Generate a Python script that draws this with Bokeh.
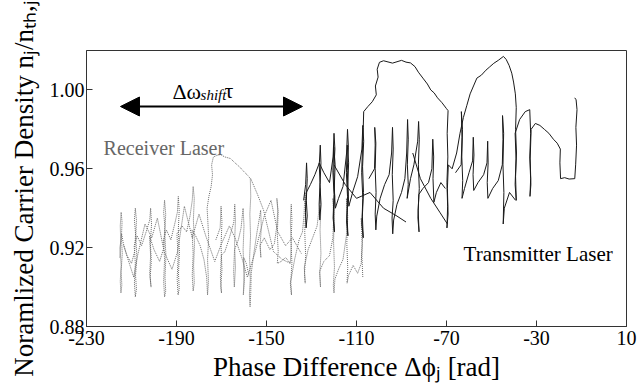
import math
from bokeh.plotting import figure
from bokeh.models import (FixedTicker, PrintfTickFormatter, Label, Arrow,
                          NormalHead, Range1d)
from bokeh.embed import file_html
from bokeh.resources import INLINE

# ---------------- data ----------------
x_ticks = [-230, -190, -150, -110, -70, -30, 10]
y_ticks = [0.88, 0.92, 0.96, 1.00]
x_title = "Phase Difference \u0394\u03d5\u2c7c [rad]"
y_title = "Noramlized Carrier Density n\u2c7c/n\u209c\u2095,\u2c7c"

# Receiver laser trajectory (grey dotted): (phase difference, carrier density)
recv_seg1 = [
    (-215.2, 0.915), (-214.8, 0.924), (-215.0, 0.931), (-214.6, 0.938), (-214.2, 0.933), (-214.5, 0.925),
    (-214.1, 0.917), (-214.6, 0.908), (-214.3, 0.901), (-214.7, 0.897), (-215.0, 0.903), (-214.6, 0.911),
    (-215.1, 0.920), (-214.4, 0.927), (-213.6, 0.922), (-212.0, 0.916), (-210.0, 0.912),
    (-208.6, 0.918), (-208.2, 0.927), (-208.7, 0.934), (-208.3, 0.940), (-207.8, 0.934), (-208.1, 0.925),
    (-207.6, 0.915), (-208.2, 0.906), (-207.8, 0.899), (-208.3, 0.895), (-208.7, 0.902), (-208.3, 0.912),
    (-208.8, 0.921), (-207.5, 0.926), (-205.5, 0.921), (-203.5, 0.928),
    (-201.9, 0.934), (-201.5, 0.940), (-201.1, 0.932), (-201.6, 0.922), (-201.2, 0.913), (-201.7, 0.905),
    (-201.3, 0.900), (-201.9, 0.907), (-201.5, 0.916), (-202.0, 0.926), (-200.0, 0.919), (-197.5, 0.913),
    (-195.6, 0.920), (-195.2, 0.931), (-195.7, 0.938), (-195.3, 0.944), (-194.8, 0.937), (-195.2, 0.927),
    (-194.7, 0.916), (-195.1, 0.905), (-194.8, 0.898), (-195.3, 0.895), (-195.7, 0.903), (-195.3, 0.914),
    (-195.8, 0.924), (-194.5, 0.929), (-192.5, 0.924), (-190.8, 0.932),
    (-189.6, 0.938), (-189.2, 0.946), (-188.8, 0.939), (-189.2, 0.929), (-188.7, 0.918), (-189.1, 0.907),
    (-188.8, 0.899), (-189.3, 0.896), (-189.7, 0.904), (-189.3, 0.915), (-189.8, 0.927), (-187.5, 0.931),
    (-185.5, 0.928), (-184.0, 0.936),
    (-183.0, 0.944), (-182.6, 0.951), (-182.1, 0.945), (-182.5, 0.934), (-182.0, 0.922), (-182.4, 0.911),
    (-182.1, 0.902), (-182.6, 0.898), (-183.0, 0.906), (-182.6, 0.917), (-183.1, 0.929), (-181.5, 0.926),
    (-179.5, 0.921), (-177.8, 0.914),
    (-176.6, 0.905), (-176.2, 0.896), (-175.8, 0.903), (-176.2, 0.914), (-175.7, 0.925), (-176.1, 0.934),
    (-176.4, 0.940), (-175.6, 0.946), (-174.6, 0.951), (-174.0, 0.957), (-174.4, 0.962), (-173.6, 0.966),
    (-172.0, 0.9668), (-170.5, 0.9672), (-168.5, 0.9660), (-166.0, 0.9652), (-164.0, 0.9630),
    (-162.0, 0.9610), (-160.0, 0.9585), (-158.2, 0.9565), (-157.2, 0.955),
    (-157.0, 0.946), (-157.4, 0.937), (-157.1, 0.926), (-157.5, 0.915), (-157.2, 0.904), (-157.6, 0.896),
    (-157.3, 0.890), (-157.0, 0.897), (-156.8, 0.907), (-155.5, 0.918), (-154.2, 0.928), (-153.0, 0.936),
    (-152.6, 0.939), (-152.3, 0.930), (-152.8, 0.922), (-152.5, 0.915), (-152.9, 0.921), (-151.0, 0.925),
    (-148.5, 0.919), (-146.5, 0.922),
    (-145.4, 0.931), (-145.0, 0.939), (-145.4, 0.945), (-144.8, 0.938), (-145.2, 0.927), (-144.8, 0.918),
    (-145.2, 0.912), (-143.5, 0.913), (-141.5, 0.915),
    (-139.4, 0.912), (-139.0, 0.922), (-139.4, 0.933), (-139.0, 0.942), (-138.7, 0.934), (-139.1, 0.923),
    (-138.7, 0.912), (-139.2, 0.903), (-138.9, 0.896), (-139.4, 0.902), (-137.5, 0.914), (-135.5, 0.924),
    (-134.0, 0.928),
    (-133.3, 0.937), (-132.9, 0.948), (-132.6, 0.940), (-133.0, 0.928), (-132.6, 0.916), (-133.1, 0.907),
    (-132.8, 0.902), (-133.2, 0.910), (-131.5, 0.919), (-129.5, 0.925), (-127.5, 0.931),
    (-126.5, 0.941), (-126.1, 0.950), (-125.8, 0.941), (-126.2, 0.929), (-125.8, 0.917), (-126.3, 0.907),
    (-126.0, 0.900), (-126.4, 0.908), (-124.5, 0.913), (-122.0, 0.916),
    (-120.5, 0.925), (-120.1, 0.936), (-120.5, 0.945), (-119.8, 0.937), (-120.2, 0.923), (-119.8, 0.910),
    (-120.3, 0.901), (-120.0, 0.897), (-119.6, 0.904), (-118.0, 0.909), (-116.0, 0.914),
    (-114.5, 0.926), (-114.1, 0.937), (-114.5, 0.945), (-113.9, 0.936), (-114.3, 0.922), (-113.9, 0.910),
    (-114.2, 0.902), (-113.5, 0.906), (-111.5, 0.911), (-109.5, 0.907),
    (-107.9, 0.912), (-107.5, 0.922), (-107.9, 0.935), (-107.3, 0.928), (-107.6, 0.916), (-107.2, 0.905)]
recv_seg2 = [
    (-172.5, 0.924), (-170.6, 0.930), (-170.2, 0.941), (-169.8, 0.933), (-170.2, 0.921), (-169.8, 0.909),
    (-170.3, 0.900), (-170.0, 0.897), (-170.5, 0.905), (-170.1, 0.916), (-168.5, 0.918), (-166.5, 0.925),
    (-164.5, 0.933), (-164.1, 0.942), (-163.8, 0.934), (-164.2, 0.922), (-163.8, 0.910), (-164.3, 0.900),
    (-164.6, 0.908), (-164.2, 0.919), (-162.5, 0.924), (-161.3, 0.930),
    (-160.4, 0.940), (-160.0, 0.931), (-160.4, 0.919), (-160.0, 0.907), (-160.3, 0.896), (-159.8, 0.903),
    (-160.1, 0.915), (-159.0, 0.912), (-157.8, 0.906)]
recv_seg3 = [
    (-213.5, 0.921), (-209.0, 0.905), (-207.5, 0.915), (-204.0, 0.932), (-201.0, 0.925), (-198.5, 0.935),
    (-195.5, 0.918), (-192.0, 0.909), (-189.5, 0.918), (-186.5, 0.941), (-183.0, 0.925), (-180.0, 0.937),
    (-177.0, 0.926), (-173.0, 0.913), (-170.0, 0.922), (-166.5, 0.931), (-164.0, 0.925), (-161.0, 0.915),
    (-158.5, 0.905), (-155.0, 0.918), (-151.0, 0.936), (-148.0, 0.944), (-145.0, 0.928), (-141.5, 0.921),
    (-138.5, 0.925), (-134.5, 0.917)]
recv_seg4 = [
    (-157.0, 0.955), (-154.0, 0.947), (-151.3, 0.939), (-149.0, 0.928), (-146.9, 0.918), (-143.0, 0.914),
    (-139.3, 0.912)]

# Transmitter laser trajectory (black solid)
trans_seg1 = [
    (-133.5, 0.944), (-132.6, 0.952), (-132.2, 0.963), (-131.9, 0.955), (-132.3, 0.944), (-131.9, 0.936),
    (-132.4, 0.930), (-132.7, 0.938), (-132.3, 0.948), (-130.5, 0.952), (-128.5, 0.957),
    (-126.5, 0.963), (-126.1, 0.972), (-125.8, 0.963), (-126.2, 0.952), (-125.8, 0.942), (-126.3, 0.934),
    (-126.6, 0.942), (-126.2, 0.953), (-126.6, 0.963), (-124.5, 0.958), (-122.0, 0.953),
    (-120.4, 0.966), (-120.0, 0.978), (-119.6, 0.970), (-120.1, 0.958), (-119.7, 0.946), (-120.2, 0.936),
    (-119.8, 0.928), (-120.4, 0.935), (-120.0, 0.947), (-120.5, 0.959), (-120.1, 0.971), (-119.5, 0.962),
    (-119.9, 0.950), (-119.4, 0.940), (-118.0, 0.945), (-116.0, 0.951),
    (-114.4, 0.968), (-114.0, 0.980), (-113.6, 0.971), (-114.1, 0.959), (-113.7, 0.947), (-114.2, 0.936),
    (-113.8, 0.926), (-114.4, 0.933), (-114.0, 0.946), (-114.5, 0.958), (-114.1, 0.972), (-113.5, 0.963),
    (-113.9, 0.951), (-113.4, 0.941), (-111.5, 0.949), (-109.5, 0.956),
    (-107.6, 0.970), (-107.2, 0.982), (-106.8, 0.974), (-107.3, 0.961), (-106.9, 0.948), (-107.4, 0.936),
    (-107.0, 0.925), (-107.6, 0.932), (-107.2, 0.945), (-107.7, 0.958), (-107.3, 0.972), (-107.0, 0.981),
    (-106.8, 0.989),
    (-105.0, 0.9915), (-103.0, 0.9940), (-101.2, 0.9975), (-101.6, 1.0020), (-100.4, 1.0065),
    (-100.8, 1.0105), (-99.8, 1.0140), (-98.0, 1.0148), (-96.0, 1.0142), (-94.0, 1.0136), (-92.0, 1.0143),
    (-90.0, 1.0150), (-88.0, 1.0141), (-86.0, 1.0137), (-84.0, 1.0118), (-82.5, 1.0090), (-80.5, 1.0060),
    (-78.5, 1.0030), (-77.0, 1.0000), (-75.5, 0.9985), (-74.0, 0.9960), (-72.0, 0.9935), (-70.0, 0.9905),
    (-69.3, 0.9895),
    (-69.7, 0.978), (-69.4, 0.966), (-69.8, 0.953), (-69.5, 0.941), (-69.8, 0.930), (-69.3, 0.937),
    (-69.6, 0.950), (-69.2, 0.962), (-67.5, 0.960), (-65.5, 0.968), (-64.0, 0.978),
    (-62.5, 0.986), (-61.0, 0.992), (-59.5, 0.998), (-58.0, 1.002), (-56.5, 1.006), (-54.5, 1.0075),
    (-52.5, 1.010), (-51.0, 1.0115), (-49.0, 1.0135), (-47.0, 1.015), (-44.7, 1.017), (-43.5, 1.0155),
    (-42.2, 1.0125), (-41.0, 1.0085), (-40.2, 1.004), (-39.4, 0.998), (-39.0, 0.991),
    (-39.3, 0.980), (-38.9, 0.968), (-39.3, 0.956), (-39.0, 0.944), (-39.5, 0.952), (-39.1, 0.965),
    (-39.5, 0.978), (-37.5, 0.985), (-35.0, 0.989), (-33.0, 0.990),
    (-32.6, 0.978), (-33.0, 0.966), (-32.6, 0.955), (-32.9, 0.946), (-32.5, 0.952), (-32.8, 0.965),
    (-32.4, 0.980), (-30.5, 0.983), (-28.5, 0.982), (-26.5, 0.980), (-24.5, 0.978), (-22.5, 0.975),
    (-20.8, 0.973), (-19.4, 0.970), (-19.6, 0.963), (-19.3, 0.955), (-17.5, 0.9555), (-15.5, 0.9548),
    (-13.0, 0.955), (-12.6, 0.962), (-12.2, 0.972), (-12.5, 0.981), (-12.0, 0.990), (-12.4, 0.995),
    (-13.0, 0.996)]
trans_seg2 = [
    (-104.5, 0.955), (-102.0, 0.960), (-101.7, 0.972), (-101.9, 0.981), (-101.4, 0.973), (-101.7, 0.960),
    (-101.3, 0.948), (-101.7, 0.937), (-101.4, 0.929), (-101.0, 0.936), (-99.5, 0.945), (-97.5, 0.952),
    (-95.5, 0.957),
    (-94.4, 0.968), (-94.0, 0.981), (-93.7, 0.970), (-94.1, 0.957), (-93.7, 0.944), (-94.2, 0.935),
    (-93.9, 0.927), (-93.5, 0.934), (-92.0, 0.942), (-90.0, 0.948), (-88.5, 0.955),
    (-87.7, 0.968), (-87.3, 0.985), (-87.0, 0.975), (-87.4, 0.962), (-87.0, 0.952), (-87.5, 0.945),
    (-86.0, 0.955), (-84.5, 0.962),
    (-82.8, 0.974), (-82.4, 0.984), (-82.1, 0.975), (-82.5, 0.962), (-82.1, 0.950), (-82.6, 0.939),
    (-82.2, 0.928), (-82.7, 0.935), (-82.3, 0.947), (-80.5, 0.950), (-78.0, 0.953), (-76.5, 0.960),
    (-76.1, 0.975), (-75.7, 0.966), (-76.0, 0.955), (-75.6, 0.943), (-74.5, 0.948), (-72.5, 0.953),
    (-70.5, 0.950)]
trans_seg3 = [(-85.0, 0.968), (-81.6, 0.955), (-77.0, 0.945), (-73.0, 0.938), (-69.6, 0.932)]
trans_seg4 = [
    (-66.0, 0.958), (-63.5, 0.962), (-63.1, 0.976), (-63.4, 0.989), (-62.9, 0.980), (-63.2, 0.966),
    (-62.8, 0.954), (-63.1, 0.945), (-62.0, 0.950), (-60.0, 0.958), (-58.4, 0.964), (-58.1, 0.976),
    (-57.8, 0.967), (-58.2, 0.957), (-57.9, 0.949), (-56.0, 0.953), (-53.5, 0.957), (-52.0, 0.963),
    (-51.7, 0.974), (-51.5, 0.963), (-51.9, 0.953), (-51.6, 0.945), (-49.5, 0.950), (-47.0, 0.954),
    (-45.2, 0.962), (-44.9, 0.975), (-45.1, 0.987), (-44.6, 0.978), (-44.9, 0.962), (-44.5, 0.948),
    (-44.8, 0.932), (-44.3, 0.940), (-42.0, 0.948), (-39.3, 0.944)]
trans_seg5 = [(-120.0, 0.962), (-115.0, 0.952), (-110.0, 0.945), (-104.0, 0.948), (-98.0, 0.940),
              (-92.0, 0.936), (-88.0, 0.933)]

recv_segments = [recv_seg1, recv_seg2, recv_seg3, recv_seg4]
trans_segments = [trans_seg1, trans_seg2, trans_seg3, trans_seg4, trans_seg5]

# ---------------- figure ----------------
SERIF = "Liberation Serif"
W, H = 642, 391
p = figure(width=W, height=H, output_backend="svg", toolbar_location=None,
           x_range=Range1d(-230, 10), y_range=Range1d(0.88, 1.02),
           min_border_left=86, min_border_right=16, min_border_top=50,
           min_border_bottom=65)
p.background_fill_color = "white"
p.border_fill_color = "white"
p.outline_line_color = "#333333"
p.outline_line_width = 1
p.xgrid.visible = False
p.ygrid.visible = False

p.multi_line([[pt[0] for pt in s] for s in recv_segments],
             [[pt[1] for pt in s] for s in recv_segments],
             line_color="#6a6a6a", line_width=1, line_dash="1 1")
p.multi_line([[pt[0] for pt in s] for s in trans_segments],
             [[pt[1] for pt in s] for s in trans_segments],
             line_color="#1a1a1a", line_width=1)

for ax in (p.xaxis[0], p.yaxis[0]):
    ax.axis_line_color = "#333333"
    ax.major_tick_line_color = "#333333"
    ax.minor_tick_line_color = None
    ax.major_tick_in = 6
    ax.major_tick_out = 0
    ax.major_label_text_font = SERIF
    ax.major_label_text_font_size = "20px"
    ax.major_label_text_color = "black"
    ax.axis_label_text_font = SERIF
    ax.axis_label_text_font_size = "27px"
    ax.axis_label_text_font_style = "normal"
    ax.axis_label_text_color = "black"

p.xaxis[0].ticker = FixedTicker(ticks=x_ticks)
p.xaxis[0].formatter = PrintfTickFormatter(format="%d")
p.xaxis[0].major_label_standoff = 4
p.xaxis[0].axis_label = x_title
p.xaxis[0].axis_label_standoff = 4
p.yaxis[0].ticker = FixedTicker(ticks=y_ticks)
p.yaxis[0].formatter = PrintfTickFormatter(format="%.2f")
p.yaxis[0].major_label_standoff = 2
p.yaxis[0].axis_label = y_title
p.yaxis[0].axis_label_standoff = 8


def lab(text, x, y, size, style="normal", color="black"):
    p.add_layout(Label(x=x, y=y, text=text, text_font=SERIF, text_font_size=size,
                       text_font_style=style, text_color=color, text_align="left",
                       text_baseline="alphabetic"))


# annotations inside the plot
lab("\u0394\u03c9", -191.8, 0.9992, "22px")
lab("shift", -179.3, 0.9972, "15px", "italic")
lab("\u03c4", -168.7, 0.9997, "22px")
p.add_layout(Arrow(start=NormalHead(size=19, fill_color="black", line_color="black"),
                   end=NormalHead(size=19, fill_color="black", line_color="black"),
                   x_start=-214.9, y_start=0.9916, x_end=-134.0, y_end=0.9916,
                   line_width=2, line_color="black"))
lab("Receiver Laser", -222.4, 0.9703, "20px", color="#666666")
lab("Transmitter Laser", -62.4, 0.9170, "21px")

open("out.html", "w").write(file_html(p, INLINE))
